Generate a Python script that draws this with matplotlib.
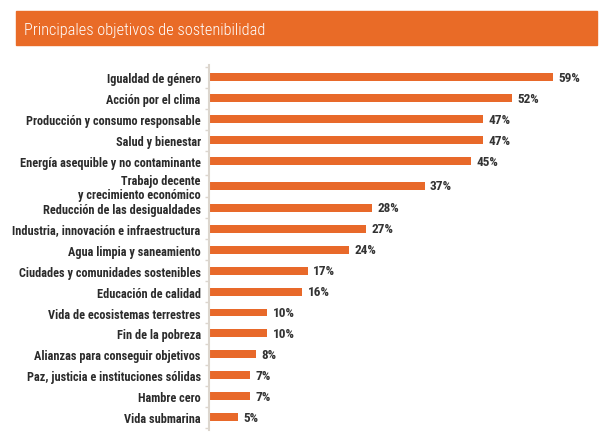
import matplotlib.pyplot as plt
from matplotlib.patches import Rectangle
import numpy as np

categories = [
    "Igualdad de género",
    "Acción por el clima",
    "Producción y consumo responsable",
    "Salud y bienestar",
    "Energía asequible y no contaminante",
    "Trabajo decente\ny crecimiento económico",
    "Reducción de las desigualdades",
    "Industria, innovación e infraestructura",
    "Agua limpia y saneamiento",
    "Ciudades y comunidades sostenibles",
    "Educación de calidad",
    "Vida de ecosistemas terrestres",
    "Fin de la pobreza",
    "Alianzas para conseguir objetivos",
    "Paz, justicia e instituciones sólidas",
    "Hambre cero",
    "Vida submarina",
]
values = [59, 52, 47, 47, 45, 37, 28, 27, 24, 17, 16, 10, 10, 8, 7, 7, 5]
title = "Principales objetivos de sostenibilidad"

orange = "#e8692a"
plt.rcParams['font.family'] = ['Roboto Condensed', 'DejaVu Sans']

W, H = 611, 439
fig = plt.figure(figsize=(W / 100, H / 100), dpi=100)

# title banner
fig.patches.append(Rectangle((16 / W, 1 - 46 / H), 581 / W, 34 / H,
                             transform=fig.transFigure, color="#e96b27", zorder=0))
fig.text(24 / W, 1 - 30 / H, title, color="white", fontsize=11.8,
         va="center", ha="left", fontweight="light")

# bar area; the two-line label gets a little extra room
y = np.arange(len(categories), dtype=float)
y[5] += 0.18
y[6:] += 0.22
ax = fig.add_axes([209 / W, 1 - 431 / H, 361.6 / W, 365.5 / H])
ax.barh(y, values, height=0.38, color=orange)
ax.set_xlim(0, 62)
ax.set_ylim(y[-1] + 0.6, -0.6)

for yi, v in zip(y, values):
    ax.text(v + 0.9, yi, f"{v}%", va="center", ha="left",
            fontsize=9.5, fontweight="bold", color="#333333")

ax.set_yticks(y)
ax.set_yticklabels(categories, fontsize=8.8, fontweight="bold",
                   color="#2b2b2b", linespacing=1.05)
ax.set_yticks(np.r_[y - 0.5, y[-1] + 0.5], minor=True)
ax.tick_params(axis="y", which="major", length=0, pad=6)
ax.tick_params(axis="y", which="minor", length=3, width=1, color="#dcd6ce")
ax.set_xticks([])

for s in ["top", "right", "bottom"]:
    ax.spines[s].set_visible(False)
ax.spines["left"].set_color("#dcd6ce")
ax.spines["left"].set_linewidth(1.5)

fig.savefig("out.png", dpi=100)
